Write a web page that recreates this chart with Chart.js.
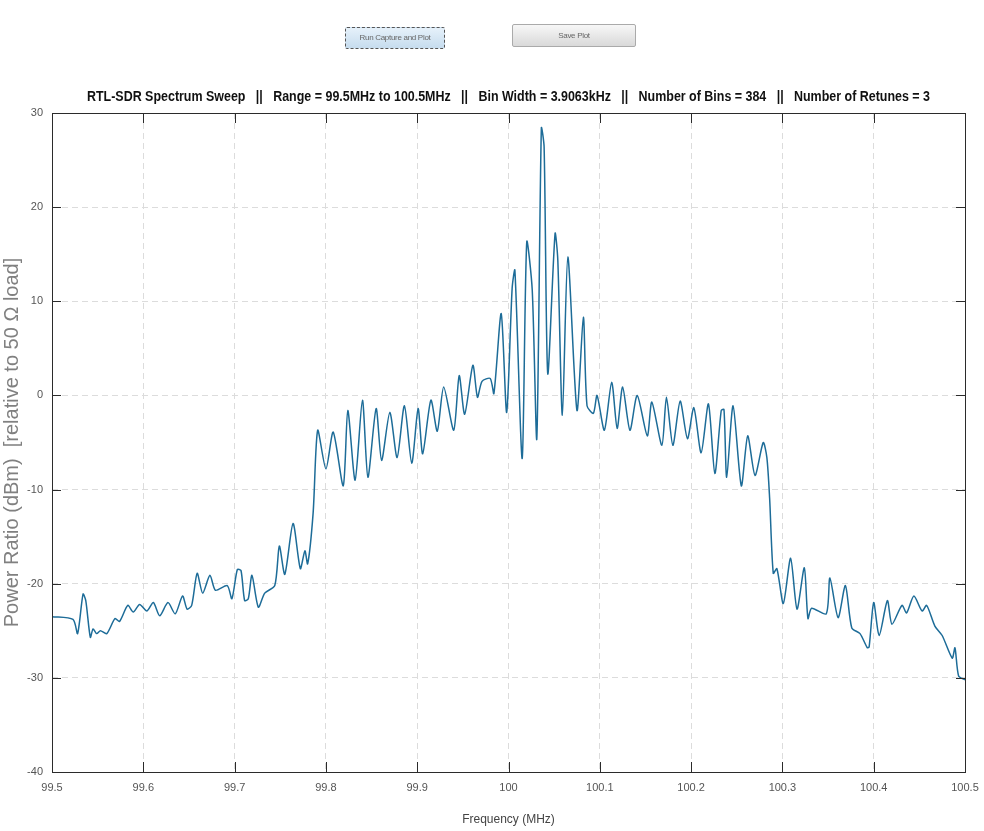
<!DOCTYPE html>
<html>
<head>
  <meta charset="UTF-8">
  <title>RTL-SDR Spectrum Sweep</title>
  <style type="text/css">
    body { margin: 0; background: #fff; }
    #chart-container { position: relative; width: 984px; height: 831px; }
    #mycanvas { position: absolute; left: 0; top: 0; }
    .btn {
      position: absolute;
      font: 8px "Liberation Sans", sans-serif;
      letter-spacing: -0.3px;
      color: #666;
      text-align: center;
      box-sizing: border-box;
      border-radius: 2px;
    }
    #run {
      left: 345px; top: 27px; width: 100px; height: 22px; line-height: 20px;
      background: linear-gradient(#e6f1fa, #c6dcee);
      border: 1px dashed #555;
    }
    #save {
      left: 512px; top: 24px; width: 124px; height: 23px; line-height: 21px;
      background: linear-gradient(#f7f7f7, #d9d9d9);
      border: 1px solid #aaa;
    }
  </style>
  <script type="text/javascript" src="https://cdn.jsdelivr.net/npm/chart.js@4.4.1/dist/chart.umd.min.js"></script>
</head>
<body>

<div id="chart-container">
  <canvas id="mycanvas" width="984" height="831"></canvas>
  <div class="btn" id="run">Run Capture and Plot</div>
  <div class="btn" id="save">Save Plot</div>
</div>

<script>
// frequency (MHz) and power (dBm)
var freqs = [
  99.500, 99.523, 99.528, 99.534, 99.537, 99.542, 99.545, 99.549, 99.553, 99.560,
  99.569, 99.574, 99.583, 99.589, 99.596, 99.604, 99.611, 99.618, 99.627, 99.635,
  99.643, 99.648, 99.653, 99.659, 99.665, 99.673, 99.679, 99.692, 99.697, 99.703,
  99.707, 99.711, 99.715, 99.719, 99.726, 99.733, 99.744, 99.749, 99.755, 99.764,
  99.772, 99.777, 99.780, 99.786, 99.791, 99.800, 99.808, 99.819, 99.824, 99.832,
  99.840, 99.846, 99.855, 99.861, 99.870, 99.878, 99.886, 99.894, 99.901, 99.906,
  99.915, 99.922, 99.929, 99.940, 99.946, 99.952, 99.961, 99.966, 99.971, 99.980,
  99.984, 99.992, 99.998, 100.004, 100.007, 100.015, 100.020, 100.026, 100.031, 100.036,
  100.039, 100.043, 100.051, 100.054, 100.059, 100.065, 100.075, 100.082, 100.086, 100.093,
  100.097, 100.105, 100.113, 100.119, 100.125, 100.133, 100.141, 100.152, 100.157, 100.168,
  100.173, 100.180, 100.188, 100.196, 100.203, 100.211, 100.219, 100.226, 100.233, 100.236,
  100.239, 100.246, 100.255, 100.262, 100.270, 100.279, 100.283, 100.286, 100.290, 100.294,
  100.301, 100.309, 100.316, 100.324, 100.328, 100.332, 100.348, 100.352, 100.361, 100.369,
  100.376, 100.385, 100.393, 100.395, 100.400, 100.406, 100.415, 100.420, 100.431, 100.436,
  100.444, 100.453, 100.458, 100.467, 100.475, 100.486, 100.489, 100.493, 100.500
];
var power = [
  -23.5, -23.8, -25.3, -21.1, -21.8, -25.7, -24.8, -25.3, -25.0, -25.3,
  -23.7, -24.0, -22.3, -23.0, -22.2, -22.9, -22.0, -23.4, -22.0, -23.2,
  -21.3, -22.7, -22.3, -18.9, -21.0, -19.1, -20.7, -20.2, -21.6, -18.5,
  -18.6, -21.8, -21.6, -19.1, -22.5, -21.0, -20.2, -16.0, -19.0, -13.6,
  -18.4, -16.5, -17.9, -12.5, -3.7, -7.8, -3.9, -9.6, -1.6, -9.0,
  -0.5, -8.7, -1.4, -6.9, -1.8, -6.6, -1.1, -7.2, -1.4, -6.2,
  -0.5, -3.8, 0.9, -3.7, 2.1, -2.0, 3.2, -0.2, 1.5, 1.8,
  0.2, 8.7, -1.8, 11.4, 13.3, -6.7, 16.3, 11.2, -4.6, 28.4,
  26.4, 2.3, 17.2, 14.4, -2.1, 14.7, -1.6, 8.3, -1.1, -1.9,
  0.0, -3.7, 1.4, -3.5, 0.9, -3.7, 0.0, -4.3, -0.7, -5.3,
  -0.2, -5.3, -0.6, -4.6, -1.3, -6.1, -0.9, -8.3, -1.6, -1.5,
  -8.7, -1.1, -9.6, -4.3, -8.5, -5.0, -6.6, -10.9, -18.9, -18.4,
  -22.1, -17.3, -22.7, -18.3, -23.7, -22.6, -23.2, -19.4, -23.6, -20.2,
  -24.7, -25.3, -26.8, -26.7, -22.0, -25.5, -21.8, -24.3, -22.3, -23.1,
  -21.3, -22.9, -22.3, -24.5, -25.5, -27.9, -26.8, -29.8, -30.2
];
var xTicks = [99.5, 99.6, 99.7, 99.8, 99.9, 100, 100.1, 100.2, 100.3, 100.4, 100.5];
var yTicks = [-40, -30, -20, -10, 0, 10, 20, 30];

var titleText = 'RTL-SDR Spectrum Sweep   ||   Range = 99.5MHz to 100.5MHz   ||   Bin Width = 3.9063kHz   ||   Number of Bins = 384   ||   Number of Retunes = 3';
var sans = '"Liberation Sans", Arial, sans-serif';

var points = [];
for (var i = 0; i < freqs.length; i++) {
  points.push({x: freqs[i], y: power[i]});
}

// axes box, inward tick marks and a condensed bold title (matlab look)
var boxPlugin = {
  id: 'box',
  afterDraw: function(chart) {
    var ctx = chart.ctx, a = chart.chartArea;
    var xs = chart.scales.x, ys = chart.scales.y;
    ctx.save();
    ctx.strokeStyle = '#2b2b2b';
    ctx.lineWidth = 1;
    ctx.strokeRect(a.left + 0.5, a.top + 0.5, a.right - a.left, a.bottom - a.top);
    ctx.beginPath();
    xTicks.forEach(function(v) {
      var px = Math.round(xs.getPixelForValue(v)) + 0.5;
      ctx.moveTo(px, a.bottom); ctx.lineTo(px, a.bottom - 10);
      ctx.moveTo(px, a.top); ctx.lineTo(px, a.top + 10);
    });
    yTicks.forEach(function(v) {
      var py = Math.round(ys.getPixelForValue(v)) + 0.5;
      ctx.moveTo(a.left, py); ctx.lineTo(a.left + 9, py);
      ctx.moveTo(a.right, py); ctx.lineTo(a.right - 9, py);
    });
    ctx.stroke();

    ctx.font = 'bold 14px ' + sans;
    ctx.fillStyle = '#111';
    ctx.textAlign = 'center';
    ctx.textBaseline = 'middle';
    var w = ctx.measureText(titleText).width;
    var sx = 843 / w;
    ctx.translate((a.left + a.right) / 2, a.top - 16);
    ctx.scale(sx, 1);
    ctx.fillText(titleText, 0, 0);
    ctx.restore();
  }
};

var ctx = document.getElementById('mycanvas');
var chart = new Chart(ctx, {
  type: 'line',
  data: {
    datasets: [{
      label: 'Spectrum',
      data: points,
      borderColor: '#1d6c98',
      borderWidth: 1.5,
      pointRadius: 0,
      tension: 0.25,
      fill: false
    }]
  },
  options: {
    responsive: false,
    animation: false,
    layout: { padding: { top: 113, right: 19, bottom: 0, left: 0 } },
    plugins: {
      legend: { display: false },
      tooltip: { enabled: false },
      title: { display: false }
    },
    scales: {
      x: {
        type: 'linear',
        min: 99.5,
        max: 100.5,
        afterBuildTicks: function(s) { s.ticks = xTicks.map(function(v) { return {value: v}; }); },
        afterFit: function(s) { s.height = 59; s.paddingRight = 0; s.paddingLeft = 0; },
        ticks: {
          color: '#555',
          font: { family: sans, size: 11 },
          padding: 9,
          maxRotation: 0,
          callback: function(v) { return String(Math.round(v * 10) / 10); }
        },
        grid: { color: '#dcdcdc', lineWidth: 1, drawTicks: false },
        border: { display: false, dash: [6, 4] },
        title: {
          display: true,
          text: 'Frequency (MHz)',
          color: '#444',
          font: { family: sans, size: 12 },
          padding: { top: 6 }
        }
      },
      y: {
        min: -40,
        max: 30,
        afterBuildTicks: function(s) { s.ticks = yTicks.map(function(v) { return {value: v}; }); },
        afterFit: function(s) { s.width = 52; },
        ticks: {
          color: '#555',
          font: { family: sans, size: 11 },
          padding: 9
        },
        grid: { color: '#dcdcdc', lineWidth: 1, drawTicks: false },
        border: { display: false, dash: [6, 4] },
        title: {
          display: true,
          text: 'Power Ratio (dBm)  [relative to 50 \u03A9 load]',
          color: '#808080',
          font: { family: sans, size: 20 },
          padding: { top: 0, bottom: 0 }
        }
      }
    }
  },
  plugins: [boxPlugin]
});
</script>

</body>
</html>
